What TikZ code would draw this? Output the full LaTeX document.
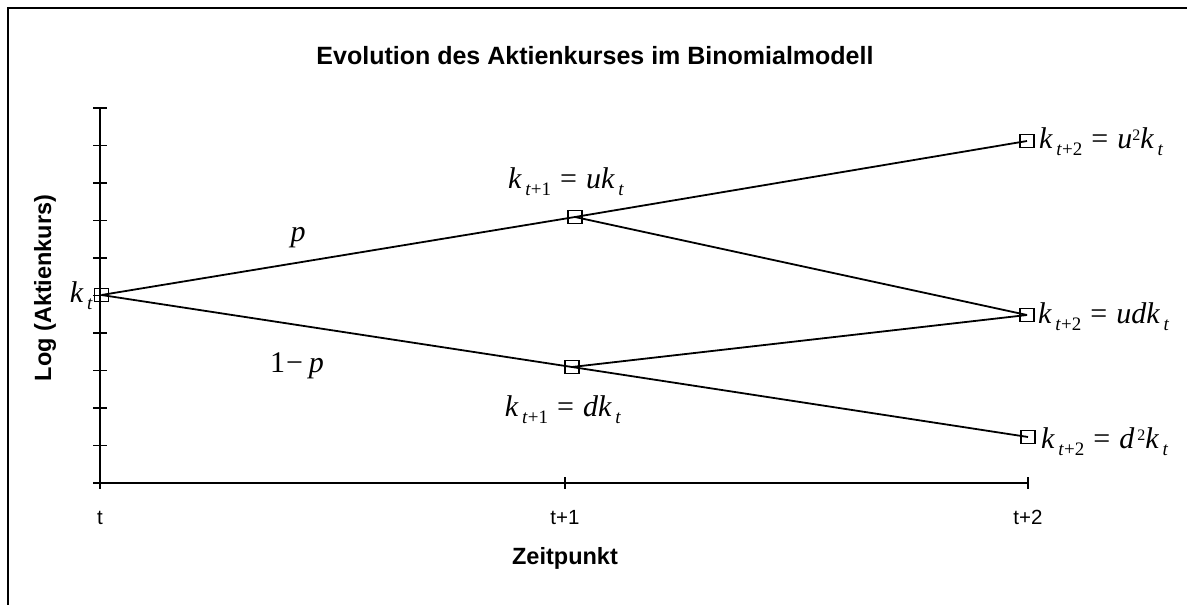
\documentclass[tikz,border=0pt]{standalone}
\usepackage{fontspec}
\setmainfont{Liberation Serif}
\newfontfamily\arialfont{Liberation Sans}
\newcommand{\sbs}[1]{\raisebox{-7pt}{\fontsize{19}{19}\selectfont #1}}
\newcommand{\sps}[1]{\raisebox{8pt}{\fontsize{16}{16}\selectfont #1}}
\newcommand{\kk}{\textit{k}\hspace{3.5pt}}
\newcommand{\eqs}{\hspace{9pt}=\hspace{9pt}}
\begin{document}
\begin{tikzpicture}[x=1pt,y=-1pt,
  box/.style={draw, line width=1.5pt, minimum width=14pt, minimum height=13pt, inner sep=0pt},
  conn/.style={line width=1.8pt},
  axisline/.style={line width=1.8pt},
  frameline/.style={line width=2.4pt},
  mathlab/.style={font=\fontsize{30}{30}\selectfont, inner sep=0pt},
  ticklab/.style={font=\arialfont\fontsize{20.5}{20}\selectfont, inner sep=0pt},
  axtitle/.style={font=\arialfont\bfseries\fontsize{23.5}{24}\selectfont, inner sep=0pt},
  titlestyle/.style={font=\arialfont\bfseries\fontsize{25}{25}\selectfont, inner sep=0pt}]
\useasboundingbox (0,0) rectangle (1187,605);
% frame
\draw[frameline] (8,605) -- (8,8) -- (1187,8);
% axes
\draw[axisline] (100,108) -- (100,483) -- (1028,483);
\foreach \i in {0,...,10} {
  \draw[axisline] (93,{108+37.5*\i}) -- (107,{108+37.5*\i});
}
\foreach \xx in {100,565,1028} {
  \draw[axisline] (\xx,477) -- (\xx,489);
}
% tick labels
\node[ticklab, anchor=base] (lt) at (100,524) {t};
\node[ticklab, anchor=base] (lt1) at (565,524) {t+1};
\node[ticklab, anchor=base] (lt2) at (1028,524) {t+2};
% titles
\node[titlestyle, anchor=base] (title) at (595,64) {Evolution des Aktienkurses im Binomialmodell};
\node[axtitle, anchor=base] (xtitle) at (565,564) {Zeitpunkt};
\node[axtitle, rotate=90] (ytitle) at (45,288) {Log (Aktienkurs)};
% nodes
\node[box] (k0) at (101.5,295) {};
\node[box] (ku) at (575,217) {};
\node[box] (kd) at (572,367) {};
\node[box] (kuu) at (1027,141) {};
\node[box] (kud) at (1027,315) {};
\node[box] (kdd) at (1028,437) {};
% connectors
\draw[conn] (k0.center) -- (ku.center);
\draw[conn] (k0.center) -- (kd.center);
\draw[conn] (ku.center) -- (kuu.center);
\draw[conn] (ku.center) -- (kud.center);
\draw[conn] (kd.center) -- (kud.center);
\draw[conn] (kd.center) -- (kdd.center);
% labels
\node[mathlab, anchor=base east] (l0) at (93,302) {\kk\sbs{\textit{t}}};
\node[mathlab, anchor=base] (lu) at (566,188) {\kk\sbs{\textit{t}+1}\eqs\textit{u}\kk\sbs{\textit{t}}};
\node[mathlab, anchor=base] (ld) at (563,416) {\kk\sbs{\textit{t}+1}\eqs\textit{d}\kk\sbs{\textit{t}}};
\node[mathlab, anchor=base west] (luu) at (1039,148) {\kk\sbs{\textit{t}+2}\eqs\textit{u}\sps{2}\kk\sbs{\textit{t}}};
\node[mathlab, anchor=base west] (lud) at (1038,323) {\kk\sbs{\textit{t}+2}\eqs\textit{udk}\hspace{3.5pt}\sbs{\textit{t}}};
\node[mathlab, anchor=base west] (ldd) at (1041,448) {\kk\sbs{\textit{t}+2}\eqs\textit{d}\hspace{3pt}\sps{2}\kk\sbs{\textit{t}}};
\node[mathlab, anchor=base] (lp) at (298,241) {\textit{p}};
\node[mathlab, anchor=base] (lq) at (297,372) {1\hspace{1pt}−\hspace{6pt}\textit{p}};
\end{tikzpicture}
\end{document}
